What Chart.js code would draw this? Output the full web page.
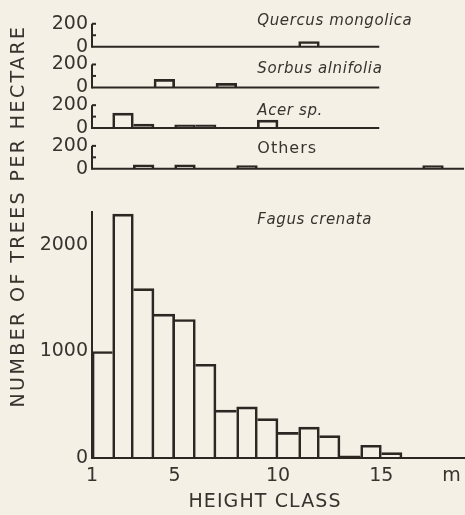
<!DOCTYPE html>
<html>
<head>
<meta charset="utf-8">
<title>Height class distribution</title>
<script src="https://cdn.jsdelivr.net/npm/chart.js@4"></script>
<style>
  html, body { margin: 0; padding: 0; background: #f4f0e6; }
  #hist { display: block; }
</style>
</head>
<body>
<canvas id="hist" width="465" height="515"></canvas>
<script>
(function () {
    'use strict';

    // ===== データ =====
    // 樹高階級の中央値 (m): 1-2, 2-3, ... 17-18
    const classMids = [1.5, 2.5, 3.5, 4.5, 5.5, 6.5, 7.5, 8.5, 9.5, 10.5, 11.5, 12.5, 13.5, 14.5, 15.5, 16.5, 17.5];

    const quercus = [null, null, null, null, null, null, null, null, null, null, 45, null, null, null, null, null, null];
    const sorbus  = [null, null, null, 70, null, null, 35, null, null, null, null, null, null, null, null, null, null];
    const acer    = [null, 130, 35, null, 28, 28, null, null, 70, null, null, null, null, null, null, null, null];
    const others  = [null, null, 35, null, 35, null, null, 28, null, null, null, null, null, null, null, null, 28];
    const fagus   = [1000, 2290, 1590, 1350, 1300, 880, 450, 480, 370, 240, 290, 210, 20, 120, 50, null, null];

    const speciesNames = ['Quercus mongolica', 'Sorbus alnifolia', 'Acer sp.', 'Others', 'Fagus crenata'];

    const smallTicks = [0, 200];
    const mainTicks = [0, 1000, 2000];
    const xTickValues = [1, 5, 10, 15];
    const xUnit = 'm';
    const yTitle = 'NUMBER OF TREES PER HECTARE';
    const xTitle = 'HEIGHT CLASS';

    // ===== 見た目 =====
    const LINE = '#2c2722';
    const TEXT = '#38332e';
    const FONT = 'DejaVu Sans';
    const UNIT_POS = 18.4;
    const BW = 2;

    // パネル（上から順）
    const panels = [
        { id: 'yQ', values: quercus, weight: 40.7, max: 355, axisTop: 200, inner: [100, 200], baseEnd: 14.9, labelY: 220, italic: true },
        { id: 'yS', values: sorbus,  weight: 40.7, max: 355, axisTop: 200, inner: [100, 200], baseEnd: 14.9, labelY: 160, italic: true },
        { id: 'yA', values: acer,    weight: 40.7, max: 355, axisTop: 200, inner: [100, 200], baseEnd: 14.9, labelY: 150, italic: true },
        { id: 'yO', values: others,  weight: 40.7, max: 355, axisTop: 200, inner: [100, 200], baseEnd: 19,   labelY: 177, italic: false },
        { id: 'yF', values: fagus,   weight: 289.2, max: 2715, axisTop: 2320, inner: [], baseEnd: null, labelY: 2235, italic: true }
    ];

    function toPoints(values) {
        return classMids.map((x, i) => ({ x: x, y: values[i] }));
    }

    function valueAt(data, i) {
        const d = data[i];
        return (d && d.y !== null && d.y !== undefined) ? d.y : null;
    }

    // 隣り合う棒の共有辺は高い方の棒だけが描く（線が二重にならないように）
    function barBorder(c) {
        const data = c.dataset.data;
        const i = c.dataIndex;
        const y = valueAt(data, i);
        const prev = valueAt(data, i - 1);
        const next = valueAt(data, i + 1);
        return {
            top: BW,
            left: (prev === null || prev < y) ? BW : 0,
            right: (next === null || next <= y) ? BW : 0,
            bottom: 0
        };
    }

    function panelAxis(p, ticks) {
        return {
            type: 'linear',
            position: 'left',
            stack: 'panels',
            stackWeight: p.weight,
            min: 0,
            max: p.max,
            afterBuildTicks: (s) => { s.ticks = ticks.map(v => ({ value: v })); },
            afterFit: (s) => { s.width = 92; s.paddingTop = 0; s.paddingBottom = 0; },
            ticks: {
                autoSkip: false,
                padding: 4,
                color: TEXT,
                font: { family: FONT, size: 19 },
                callback: (v) => String(v)
            },
            grid: { display: false, drawTicks: false },
            border: { display: false }
        };
    }

    // 軸の枠・種名・軸タイトル
    const framePlugin = {
        id: 'panelFrame',
        afterDatasetsDraw(chart) {
            const { ctx, chartArea, scales } = chart;
            const xs = scales.x;
            ctx.save();
            ctx.strokeStyle = LINE;
            ctx.lineWidth = 2;
            panels.forEach((p, i) => {
                const ys = scales[p.id];
                const y0 = ys.getPixelForValue(0);
                const left = chartArea.left;
                if (p.baseEnd !== null) {
                    ctx.beginPath();
                    ctx.moveTo(left, y0);
                    ctx.lineTo(xs.getPixelForValue(p.baseEnd), y0);
                    ctx.stroke();
                }
                ctx.beginPath();
                ctx.moveTo(left, y0 + 1);
                ctx.lineTo(left, ys.getPixelForValue(p.axisTop));
                ctx.stroke();
                p.inner.forEach(v => {
                    const yy = ys.getPixelForValue(v);
                    ctx.beginPath();
                    ctx.moveTo(left, yy);
                    ctx.lineTo(left + 4, yy);
                    ctx.stroke();
                });

                ctx.fillStyle = TEXT;
                ctx.textAlign = 'left';
                ctx.textBaseline = 'middle';
                ctx.font = p.italic ? 'oblique 15px "' + FONT + '"' : '16px "' + FONT + '"';
                ctx.letterSpacing = p.italic ? '0.6px' : '1px';
                ctx.fillText(speciesNames[i], xs.getPixelForValue(9), ys.getPixelForValue(p.labelY));
            });

            ctx.font = '19px "' + FONT + '"';
            ctx.letterSpacing = '2.4px';
            ctx.textAlign = 'center';
            ctx.textBaseline = 'middle';
            ctx.save();
            ctx.translate(19, 216);
            ctx.rotate(-Math.PI / 2);
            ctx.fillText(yTitle, 0, 0);
            ctx.restore();

            ctx.letterSpacing = '1.1px';
            ctx.fillText(xTitle, 265, 502);
            ctx.restore();
        }
    };

    const scales = {
        x: {
            type: 'linear',
            min: 1,
            max: 19,
            offset: false,
            afterBuildTicks: (s) => {
                s.ticks = xTickValues.map(v => ({ value: v })).concat([{ value: UNIT_POS }]);
            },
            afterFit: (s) => { s.height = 57; s.paddingLeft = 0; s.paddingRight = 0; },
            ticks: {
                autoSkip: false,
                maxRotation: 0,
                padding: 7,
                color: TEXT,
                font: { family: FONT, size: 19 },
                callback: (v) => (v === UNIT_POS ? xUnit : String(v))
            },
            grid: { offset: false, drawOnChartArea: false, drawTicks: false },
            border: { display: true, color: LINE, width: 2 }
        }
    };
    // 左側の積み重ね軸は定義の逆順に配置されるので、下から順に登録する
    panels.slice().reverse().forEach(p => {
        scales[p.id] = panelAxis(p, p.id === 'yF' ? mainTicks : smallTicks);
    });

    const datasets = panels.map((p, i) => ({
        label: speciesNames[i],
        data: toPoints(p.values),
        xAxisID: 'x',
        yAxisID: p.id,
        borderColor: LINE,
        borderWidth: barBorder,
        borderSkipped: 'start',
        backgroundColor: 'rgba(0,0,0,0)',
        barPercentage: 1,
        categoryPercentage: 1,
        grouped: false
    }));

    new Chart(document.getElementById('hist'), {
        type: 'bar',
        data: { datasets: datasets },
        options: {
            responsive: false,
            animation: false,
            events: [],
            layout: { padding: { top: 6, left: 0, right: 1, bottom: 0 } },
            plugins: { legend: { display: false }, tooltip: { enabled: false } },
            scales: scales
        },
        plugins: [framePlugin]
    });
})();
</script>
</body>
</html>
